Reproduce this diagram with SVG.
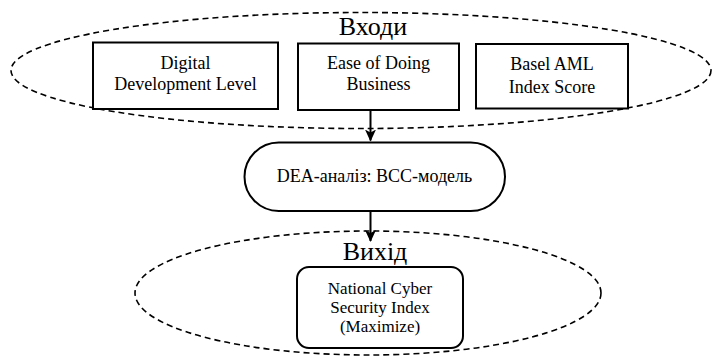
<svg xmlns="http://www.w3.org/2000/svg" width="713" height="356" viewBox="0 0 713 356">
<defs>
<marker id="arr" viewBox="0 0 12 12" refX="11" refY="6" markerWidth="12" markerHeight="12" markerUnits="userSpaceOnUse" orient="auto">
<path d="M0,0.5 L12,6 L0,11.5 L3,6 Z" fill="#000"/>
</marker>
<style>
.grp{fill:none;stroke:#000;stroke-width:1.6;stroke-dasharray:6 4}
.box{fill:#fff;stroke:#000;stroke-width:2}
.t{font-family:"Liberation Serif","Times New Roman",serif;font-size:18px;fill:#000;text-anchor:middle}
.s{font-size:17px}
.h{font-family:"Liberation Serif","Times New Roman",serif;font-size:26px;fill:#000;text-anchor:middle}
.c{fill:none;stroke:#000;stroke-width:2}
</style>
</defs>
<rect width="713" height="356" fill="#fff"/>
<g id="inputs-group">
<ellipse class="grp" cx="361" cy="70.5" rx="350" ry="58"/>
<text class="h" x="373" y="34.5">Входи</text>
</g>
<g id="output-group">
<ellipse class="grp" cx="368" cy="293" rx="233" ry="62"/>
<text class="h" x="375" y="260">Вихід</text>
</g>
<g id="digital">
<rect class="box" x="93" y="42.5" width="185" height="66.5"/>
<text class="t" x="185.5" y="68.5">Digital</text>
<text class="t" x="185.5" y="89.5">Development Level</text>
</g>
<g id="ease">
<rect class="box" x="298" y="43.5" width="161" height="66.5"/>
<text class="t" x="378.5" y="68.5">Ease of Doing</text>
<text class="t" x="378.5" y="90">Business</text>
</g>
<g id="basel">
<rect class="box" x="476" y="44" width="152" height="64.5"/>
<text class="t" x="552" y="70">Basel AML</text>
<text class="t" x="552" y="92.5">Index Score</text>
</g>
<g id="dea">
<rect class="box" x="244.5" y="142.5" width="260.5" height="68.5" rx="34.25" ry="34.25"/>
<text class="t" x="374.5" y="182">DEA-аналіз: BCC-модель</text>
</g>
<g id="ncsi">
<rect class="box" x="297" y="267" width="166" height="81" rx="12" ry="12"/>
<text class="t s" x="380" y="294">National Cyber</text>
<text class="t s" x="380" y="313">Security Index</text>
<text class="t s" x="380" y="332">(Maximize)</text>
</g>
<g id="connectors">
<line class="c" x1="370.5" y1="110" x2="370.5" y2="140.5" marker-end="url(#arr)"/>
<line class="c" x1="370.5" y1="211" x2="370.5" y2="241" marker-end="url(#arr)"/>
</g>
</svg>
